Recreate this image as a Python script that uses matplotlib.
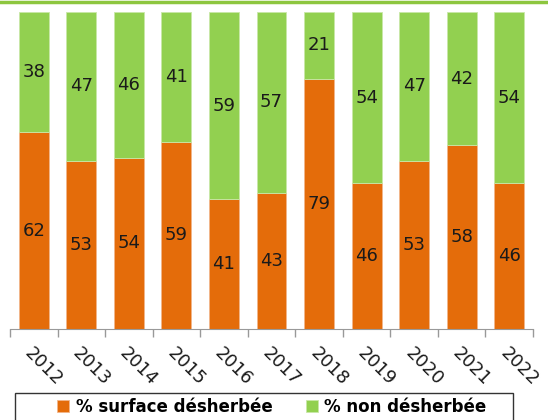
import matplotlib.pyplot as plt
from matplotlib.patches import Rectangle
from matplotlib.lines import Line2D

years = ['2012', '2013', '2014', '2015', '2016', '2017', '2018', '2019', '2020', '2021', '2022']
desherbee = [62, 53, 54, 59, 41, 43, 79, 46, 53, 58, 46]
non_desherbee = [38, 47, 46, 41, 59, 57, 21, 54, 47, 42, 54]

orange = '#E46C0A'
green = '#92D050'

fig = plt.figure(figsize=(5.48, 4.2), dpi=100)
ax = fig.add_axes([10 / 548, 1 - 329 / 420, 523 / 548, 317 / 420])

x = range(len(years))
b1 = ax.bar(x, desherbee, width=0.63, color=orange, edgecolor='#F2B58A', linewidth=0.6,
            label='% surface désherbée')
b2 = ax.bar(x, non_desherbee, width=0.63, bottom=desherbee, color=green, edgecolor='#C9E8A7',
            linewidth=0.6, label='% non désherbée')

# etiquettes au centre des segments
for i in x:
    ax.text(i, desherbee[i] / 2, str(desherbee[i]), ha='center', va='center',
            fontsize=13, color='#1a1a1a')
    ax.text(i, desherbee[i] + non_desherbee[i] / 2, str(non_desherbee[i]),
            ha='center', va='center', fontsize=13, color='#1a1a1a')

ax.set_xlim(-0.5, len(years) - 0.5)
ax.set_ylim(0, 100)
for s in ['left', 'right', 'top']:
    ax.spines[s].set_visible(False)
ax.spines['bottom'].set_color('#999999')
ax.set_yticks([])

# graduations entre les catégories
ax.set_xticks([i - 0.5 for i in range(len(years) + 1)], minor=False)
ax.set_xticklabels([])
ax.tick_params(axis='x', length=6, color='#999999', width=1)
ax.set_xticks(list(x), minor=True)
ax.set_xticklabels(years, minor=True, rotation=-45, ha='left', rotation_mode='anchor',
                   fontsize=13, color='#1a1a1a')
ax.tick_params(axis='x', which='minor', length=0, pad=11)

# ligne verte en haut
fig.add_artist(Line2D([0, 1], [1 - 1.5 / 420, 1 - 1.5 / 420], color='#8DC63F', linewidth=2.5,
                      transform=fig.transFigure))

# cadre de la légende
fig.add_artist(Rectangle((15 / 548, -0.05), 498 / 548, 0.05 + 1 - 393 / 420,
                         transform=fig.transFigure, fill=False, edgecolor='#333333',
                         linewidth=1))
fig.legend(handles=[b1, b2], loc='center', bbox_to_anchor=(272 / 548, 1 - 407 / 420),
           ncol=2, frameon=False, prop={'weight': 'bold', 'size': 12},
           handlelength=0.7, handleheight=0.7, handletextpad=0.4, columnspacing=2.0)

fig.savefig('out.png', dpi=100)
